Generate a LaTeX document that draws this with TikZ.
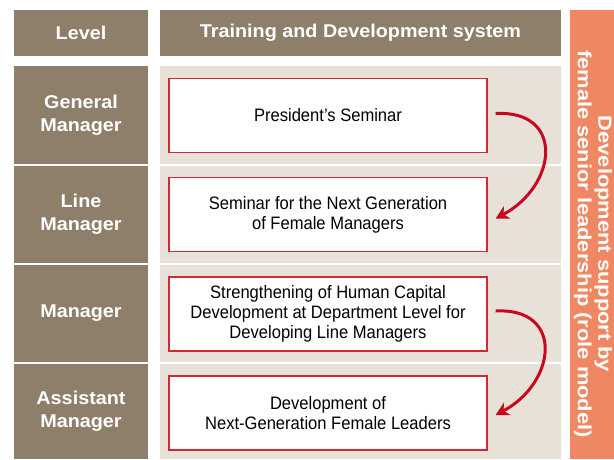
\documentclass[tikz,border=0pt]{standalone}
\usepackage{fontspec}
\setmainfont{Liberation Sans}
\newfontfamily\narrowsans[FakeStretch=0.92]{Liberation Sans}
\newfontfamily\widesans[FakeStretch=1.07]{Liberation Sans}
\newfontfamily\rolesans[FakeStretch=1.15]{Liberation Sans}
\usetikzlibrary{arrows.meta}

\definecolor{headbrown}{HTML}{8E7F6B}
\definecolor{bandbeige}{HTML}{E7E1D8}
\definecolor{roleorange}{HTML}{EF8862}
\definecolor{boxred}{HTML}{D62630}
\definecolor{arrowred}{HTML}{C8081E}

\tikzset{
  headcell/.style={fill=headbrown, text=white, inner sep=0pt, minimum height=46pt,
    font=\widesans\fontsize{18.5}{22}\selectfont\bfseries, align=center},
  levelcell/.style={fill=headbrown, text=white, inner sep=0pt, minimum width=134pt,
    font=\widesans\fontsize{18.5}{23}\selectfont\bfseries, align=center},
  bandcell/.style={fill=bandbeige, inner sep=0pt, minimum width=401pt},
  course/.style={draw=boxred, line width=1.3pt, fill=white, inner sep=0pt,
    minimum width=318pt, minimum height=74pt, align=center,
    font=\narrowsans\fontsize{18}{20}\selectfont},
  flowarrow/.style={-{Stealth[length=13pt,width=14pt,inset=4pt]}, draw=arrowred,
    line width=3pt}
}

\begin{document}
\begin{tikzpicture}[x=1pt, y=1pt]
    \useasboundingbox (0,0) rectangle (614,-459);

    % Header row
    \node[headcell, minimum width=134pt] (level) at (81,-33) {Level};
    \node[headcell, minimum width=401pt] (system) at (360.5,-33) {Training and Development system};

    % Role model band on the right
    \fill[roleorange] (570,-10) rectangle (614,-459);
    \node[rotate=-90, text=white, align=center, font=\rolesans\fontsize{19}{20.5}\selectfont\bfseries]
      (rolemodel) at (593,-244) {Development support by\\female senior leadership (role model)};

    % Levels
    \node[levelcell, minimum height=98pt] (gm) at (81,-115) {General\\Manager};
    \node[levelcell, minimum height=97pt] (lm) at (81,-214.5) {Line\\Manager};
    \node[levelcell, minimum height=97pt] (mgr) at (81,-313.5) {Manager};
    \node[levelcell, minimum height=95pt] (am) at (81,-411.5) {Assistant\\Manager};

    % Beige bands behind the courses
    \node[bandcell, minimum height=98pt] (band1) at (360.5,-115) {};
    \node[bandcell, minimum height=97pt] (band2) at (360.5,-214.5) {};
    \node[bandcell, minimum height=97pt] (band3) at (360.5,-313.5) {};
    \node[bandcell, minimum height=95pt] (band4) at (360.5,-411.5) {};

    % Courses
    \node[course] (pres) at (328,-115.5) {President’s Seminar};
    \node[course] (nextgen) at (328,-214.5) {Seminar for the Next Generation\\of Female Managers};
    \node[course] (capital) at (328,-314) {Strengthening of Human Capital\\Development at Department Level for\\Developing Line Managers};
    \node[course] (leaders) at (328,-413) {Development of\\Next-Generation Female Leaders};

    % Arrows
    \draw[flowarrow] ([xshift=8pt, yshift=2pt]pres.east) to[out=3, in=28, looseness=1.7] ([xshift=8pt, yshift=-4pt]nextgen.east);
    \draw[flowarrow] ([xshift=8pt, yshift=3pt]capital.east) to[out=3, in=28, looseness=1.7] ([xshift=8pt, yshift=-2pt]leaders.east);
\end{tikzpicture}
\end{document}
